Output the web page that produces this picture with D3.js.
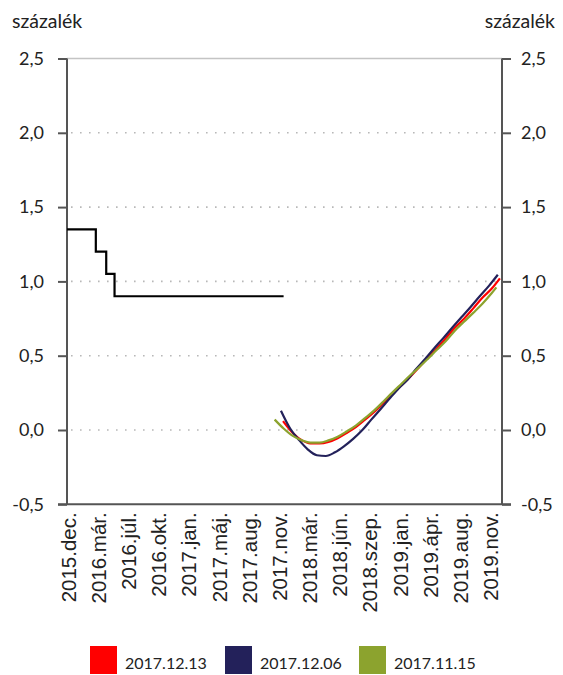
<!DOCTYPE html>
<html><head><meta charset="utf-8">
<script src="https://cdn.jsdelivr.net/npm/d3@7"></script>
<style>body{margin:0;background:#fff}svg{display:block}</style>
</head><body><svg id="c" width="563" height="675"></svg>
<script>
// ---- data ----
const xTickDates = ["2015-12-20","2016-03-31","2016-07-10","2016-10-20","2017-01-29","2017-05-11","2017-08-20","2017-11-30","2018-03-11","2018-06-21","2018-09-30","2019-01-10","2019-04-21","2019-08-01","2019-11-10"];
const xTickLabels = ["2015.dec.","2016.már.","2016.júl.","2016.okt.","2017.jan.","2017.máj.","2017.aug.","2017.nov.","2018.már.","2018.jún.","2018.szep.","2019.jan.","2019.ápr.","2019.aug.","2019.nov."];
const yTicks = [-0.5, 0, 0.5, 1, 1.5, 2, 2.5];
const baseRate = [["2015-12-17",1.35],["2016-03-23",1.20],["2016-04-27",1.05],["2016-05-25",0.90],["2017-12-15",0.90]];
const series1Name = "2017.12.13";
const series1 = [["2017-12-13",0.06],["2018-01-15",-0.02],["2018-02-15",-0.07],["2018-03-15",-0.09],["2018-04-15",-0.09],["2018-05-15",-0.08],["2018-06-15",-0.055],["2018-07-15",-0.02],["2018-08-15",0.02],["2018-09-15",0.07],["2018-10-15",0.12],["2018-11-15",0.18],["2018-12-15",0.24],["2019-01-15",0.30],["2019-02-15",0.36],["2019-03-15",0.42],["2019-04-15",0.49],["2019-05-15",0.55],["2019-06-15",0.62],["2019-07-15",0.69],["2019-08-15",0.75],["2019-09-15",0.82],["2019-10-15",0.89],["2019-11-15",0.95],["2019-12-13",1.02]];
const series2Name = "2017.12.06";
const series2 = [["2017-12-06",0.13],["2018-01-06",0.01],["2018-02-06",-0.07],["2018-03-06",-0.13],["2018-04-06",-0.17],["2018-05-06",-0.175],["2018-06-06",-0.15],["2018-07-06",-0.11],["2018-08-06",-0.06],["2018-09-06",0.0],["2018-10-06",0.07],["2018-11-06",0.14],["2018-12-06",0.21],["2019-01-06",0.28],["2019-02-06",0.34],["2019-03-06",0.41],["2019-04-06",0.48],["2019-05-06",0.55],["2019-06-06",0.62],["2019-07-06",0.69],["2019-08-06",0.76],["2019-09-06",0.83],["2019-10-06",0.90],["2019-11-06",0.97],["2019-12-06",1.045]];
const series3Name = "2017.11.15";
const series3 = [["2017-11-15",0.07],["2017-12-15",0.01],["2018-01-15",-0.04],["2018-02-15",-0.07],["2018-03-15",-0.085],["2018-04-15",-0.085],["2018-05-15",-0.07],["2018-06-15",-0.045],["2018-07-15",-0.01],["2018-08-15",0.03],["2018-09-15",0.08],["2018-10-15",0.13],["2018-11-15",0.19],["2018-12-15",0.25],["2019-01-15",0.31],["2019-02-15",0.37],["2019-03-15",0.42],["2019-04-15",0.48],["2019-05-15",0.54],["2019-06-15",0.60],["2019-07-15",0.67],["2019-08-15",0.73],["2019-09-15",0.79],["2019-10-15",0.85],["2019-11-15",0.92],["2019-12-01",0.96]];
const colors = ["#ff0000","#23215a","#8ca32e"];
const unitLabel = "százalék";

// ---- chart ----
const parse = d3.timeParse("%Y-%m-%d");
const svg = d3.select("#c");
const L = 67, R = 502, T = 58.5, B = 504.3;
const x = d3.scaleTime().domain([parse("2015-12-17"), parse("2019-12-20")]).range([L, R]);
const y = d3.scaleLinear().domain([-0.5, 2.5]).range([B, T]);
const tickFont = "Lato, 'Open Sans', sans-serif";
const fmt = d => d.toFixed(1).replace(".", ",");

// grid
svg.append("g").selectAll("line").data(yTicks.filter(v => v > -0.5 && v < 2.5)).join("line")
  .attr("x1", L + 4).attr("x2", R).attr("y1", d => y(d)).attr("y2", d => y(d))
  .attr("stroke", "#b8b8b8").attr("stroke-width", 1.6).attr("stroke-dasharray", "1.6,7.4");
svg.append("line").attr("x1", L).attr("x2", R).attr("y1", y(2.5)).attr("y2", y(2.5))
  .attr("stroke", "#c4c4c4").attr("stroke-width", 1.5);

// axes
const axL = svg.append("g").attr("transform", `translate(${L},0)`)
  .call(d3.axisLeft(y).tickValues(yTicks).tickSize(9).tickPadding(14).tickFormat(fmt));
const axR = svg.append("g").attr("transform", `translate(${R},0)`)
  .call(d3.axisRight(y).tickValues(yTicks).tickSize(9).tickPadding(10).tickFormat(fmt));
[axL, axR].forEach(a => {
  a.select(".domain").remove();
  a.selectAll("line").attr("stroke", "#555").attr("stroke-width", 2);
  a.selectAll("text").attr("font-family", tickFont).attr("font-size", 18).attr("fill", "#222");
});
svg.append("line").attr("x1", L).attr("x2", L).attr("y1", T).attr("y2", B).attr("stroke", "#555").attr("stroke-width", 2);
svg.append("line").attr("x1", R).attr("x2", R).attr("y1", T).attr("y2", B).attr("stroke", "#555").attr("stroke-width", 2);
svg.append("line").attr("x1", L - 9).attr("x2", R + 9).attr("y1", B).attr("y2", B).attr("stroke", "#555").attr("stroke-width", 2);

// x labels
const xa = d3.axisBottom(x).tickValues(xTickDates.map(parse)).tickSize(0)
  .tickFormat((d, i) => xTickLabels[i]);
const gx = svg.append("g").attr("transform", `translate(0,${B})`).call(xa);
gx.select(".domain").remove();
gx.selectAll("text").attr("font-family", "'Liberation Sans', Arial, sans-serif").attr("font-size", 20.5)
  .attr("fill", "#222").attr("text-anchor", "end")
  .attr("transform", "rotate(-90)").attr("x", -8).attr("y", 0).attr("dy", "0.36em");

// unit labels
svg.append("text").attr("x", 12).attr("y", 28).text(unitLabel)
  .attr("font-family", tickFont).attr("font-size", 19.5).attr("fill", "#222");
svg.append("text").attr("x", 555).attr("y", 28).attr("text-anchor", "end").text(unitLabel)
  .attr("font-family", tickFont).attr("font-size", 19.5).attr("fill", "#222");

// lines
const line = d3.line().x(d => x(parse(d[0]))).y(d => y(d[1]));
svg.append("path").datum(baseRate).attr("d", line.curve(d3.curveStepAfter))
  .attr("fill", "none").attr("stroke", "#000").attr("stroke-width", 2.2);
const curveLine = d3.line().x(d => x(parse(d[0]))).y(d => y(d[1])).curve(d3.curveMonotoneX);
[series1, series2, series3].forEach((s, i) => {
  svg.append("path").datum(s).attr("d", curveLine)
    .attr("fill", "none").attr("stroke", colors[i]).attr("stroke-width", 2.2);
});

// legend
const legItems = [[series1Name, colors[0], 90], [series2Name, colors[1], 225], [series3Name, colors[2], 359]];
legItems.forEach(([n, c, lx]) => {
  svg.append("rect").attr("x", lx).attr("y", 646).attr("width", 27).attr("height", 28).attr("fill", c);
  svg.append("text").attr("x", lx + 35).attr("y", 669).text(n)
    .attr("font-family", tickFont).attr("font-size", 16).attr("fill", "#222");
});
</script></body></html>
